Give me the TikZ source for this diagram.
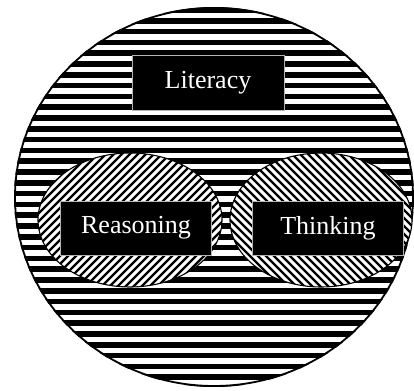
\documentclass[tikz,border=0pt]{standalone}
\usepackage{fontspec}
\setmainfont{Liberation Serif}
\definecolor{vennBorder}{RGB}{180,180,180}
\usepackage{tikz}
\usetikzlibrary{positioning,calc}

\begin{document}
\begin{tikzpicture}[x=1pt, y=1pt,
    lab/.style={rectangle, draw=vennBorder, fill=black, text=white,
                minimum width=151pt, minimum height=54pt, line width=0.8pt,
                font=\fontsize{26}{30}\selectfont, inner sep=0pt},
    stripe/.style={line width=5.6pt},
    hatch/.style={line width=2.3pt}
  ]
  \useasboundingbox (0,0) rectangle (414,390);

  % outer region, horizontal stripes
  \fill[white] (214,193) ellipse [x radius=200, y radius=190];
  \begin{scope}
    \clip (214,193) ellipse [x radius=200, y radius=190];
    \foreach \y in {0,10.8,...,390}
      \draw[stripe] (0,\y+2) -- (414,\y+2);
  \end{scope}
  \draw[line width=1.8pt] (214,193) ellipse [x radius=199, y radius=189];

  % left inner region
  \fill[white] (130,170) ellipse [x radius=92, y radius=67];
  \begin{scope}
    \clip (130,170) ellipse [x radius=92, y radius=67];
    \foreach \x in {-40,-32,...,300}
      \draw[hatch] (\x-70,100) -- (\x+70,240);
  \end{scope}
  \draw[line width=1.1pt] (130,170) ellipse [x radius=92, y radius=67];

  % right inner region
  \fill[white] (321,170) ellipse [x radius=91, y radius=67];
  \begin{scope}
    \clip (321,170) ellipse [x radius=91, y radius=67];
    \foreach \x in {150,158,...,500}
      \draw[hatch] (\x+70,100) -- (\x-70,240);
  \end{scope}
  \draw[line width=1.1pt] (321,170) ellipse [x radius=91, y radius=67];

  \node[lab, minimum width=152pt, minimum height=55pt] (lit) at (208,307) {Literacy};
  \node[lab] (rea) at (136,162) {Reasoning};
  \node[lab] (thi) at (328,162) {Thinking};
\end{tikzpicture}
\end{document}
